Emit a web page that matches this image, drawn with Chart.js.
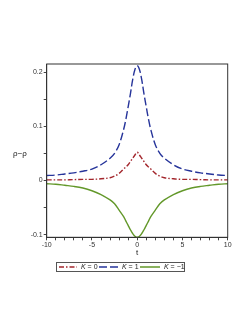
<!DOCTYPE html>
<html>
<head>
<meta charset="utf-8">
<script src="https://cdn.jsdelivr.net/npm/chart.js@4.4.0/dist/chart.umd.min.js"></script>
<style>
html,body{margin:0;padding:0;background:#fff;}
#wrap{width:249px;height:323px;position:relative;}
</style>
</head>
<body>
<div id="wrap"><canvas id="c" width="249" height="323"></canvas></div>
<script>
const tValues = [-10,-9,-8,-7,-6,-5,-4,-3,-2.5,-2,-1.5,-1.25,-1,-0.75,-0.5,-0.25,0,0.25,0.5,0.75,1,1.25,1.5,2,2.5,3,4,5,6,7,8,9,10];
const k0Values = [0.001,0.001,0.001,0.0015,0.002,0.002,0.003,0.005,0.008,0.013,0.021,0.025,0.029,0.035,0.041,0.047,0.052,0.047,0.041,0.035,0.029,0.025,0.021,0.013,0.008,0.005,0.003,0.002,0.002,0.0015,0.001,0.001,0.001];
const k1Values = [0.009,0.010,0.012,0.014,0.017,0.021,0.029,0.041,0.050,0.066,0.094,0.113,0.136,0.160,0.186,0.205,0.212,0.205,0.186,0.160,0.136,0.113,0.094,0.066,0.050,0.041,0.029,0.021,0.017,0.014,0.012,0.010,0.009];
const km1Values = [-0.006,-0.007,-0.009,-0.011,-0.014,-0.019,-0.026,-0.036,-0.043,-0.055,-0.067,-0.075,-0.083,-0.091,-0.098,-0.103,-0.105,-0.103,-0.098,-0.091,-0.083,-0.075,-0.067,-0.055,-0.043,-0.036,-0.026,-0.019,-0.014,-0.011,-0.009,-0.007,-0.006];
const seriesLabels = ["K = 0","K = 1","K = \u22121"];
const xTickLabels = [-10,-5,0,5,10];
const yTickLabels = [-0.1,0,0.1,0.2];

const colors = ["#a3262c","#26349a","#63982a"];
const dashes = [[5,2,1.5,2],[8,3],[]];
const FONT = "Liberation Sans, Arial, sans-serif";

function pts(ys){ return tValues.map((t,i)=>({x:t,y:ys[i]})); }

const framePlugin = {
  id:'frame',
  afterDraw(chart){
    const ctx = chart.ctx, a = chart.chartArea;
    ctx.save();
    ctx.strokeStyle = '#333';
    ctx.lineWidth = 1;
    ctx.strokeRect(a.left, a.top, a.right-a.left, a.bottom-a.top);
    ctx.fillStyle = '#222';
    ctx.font = '8px ' + FONT;
    ctx.textAlign = 'center';
    ctx.textBaseline = 'middle';
    ctx.fillText('\u03c1\u2212\u03c1', 20, 154);
    const lx = 56, ly = 262, lw = 128, lh = 9;
    ctx.strokeStyle = '#555';
    ctx.lineWidth = 1;
    ctx.strokeRect(lx+0.5, ly+0.5, lw, lh);
    const cy = ly + lh/2 + 0.5;
    const items = [
      {x0:59, x1:77, tx:81, rest:' = 0'},
      {x0:99, x1:118, tx:122, rest:' = 1'},
      {x0:140, x1:160, tx:164, rest:' = \u22121'}
    ];
    items.forEach((it,i)=>{
      ctx.save();
      ctx.strokeStyle = colors[i];
      ctx.lineWidth = 1.5;
      ctx.setLineDash(dashes[i]);
      ctx.beginPath(); ctx.moveTo(it.x0, cy); ctx.lineTo(it.x1, cy); ctx.stroke();
      ctx.restore();
      ctx.fillStyle = '#222';
      ctx.textAlign = 'left';
      ctx.font = 'italic 7px ' + FONT;
      ctx.fillText('K', it.tx, cy);
      const w = ctx.measureText('K').width;
      ctx.font = '7px ' + FONT;
      ctx.fillText(it.rest, it.tx + w, cy);
    });
    ctx.restore();
  }
};

new Chart(document.getElementById('c'), {
  type:'line',
  data:{
    datasets: [k0Values,k1Values,km1Values].map((ys,i)=>({
      label: seriesLabels[i],
      data: pts(ys),
      borderColor: colors[i],
      borderWidth: 1.4,
      borderDash: dashes[i],
      pointRadius: 0,
      fill: false,
      tension: 0.35
    }))
  },
  options:{
    responsive:false,
    animation:false,
    clip:false,
    layout:{padding:{left:0, top:64, right:21.3, bottom:65.7}},
    plugins:{legend:{display:false}, tooltip:{enabled:false}},
    scales:{
      x:{
        type:'linear', min:-10, max:10,
        afterBuildTicks(s){ const t=[]; for(let v=-10; v<=10; v++) t.push({value:v}); s.ticks=t; },
        afterFit(s){ s.height = 20; },
        ticks:{
          autoSkip:false, maxRotation:0, padding:1,
          color:'#333', font:{size:7, family:FONT},
          callback(v){ return xTickLabels.includes(v) ? String(v) : ''; }
        },
        grid:{drawOnChartArea:false, drawTicks:true, tickLength:3, color:'#444'},
        border:{display:true, color:'#333'},
        title:{display:true, text:'t', color:'#222', font:{size:8, family:FONT}, padding:{top:0,bottom:0}}
      },
      y:{
        type:'linear', min:-0.105, max:0.215,
        afterBuildTicks(s){ const t=[]; for(let k=-2; k<=4; k++) t.push({value:k*0.05}); s.ticks=t; },
        afterFit(s){ s.width = 46.7; },
        ticks:{
          autoSkip:false, padding:1,
          color:'#333', font:{size:7, family:FONT},
          callback(v){
            const m = yTickLabels.find(y=>Math.abs(y-v)<1e-9);
            return m===undefined ? '' : String(m);
          }
        },
        grid:{drawOnChartArea:false, drawTicks:true, tickLength:3, color:'#444'},
        border:{display:true, color:'#333'}
      }
    }
  },
  plugins:[framePlugin]
});
</script>
</body>
</html>
